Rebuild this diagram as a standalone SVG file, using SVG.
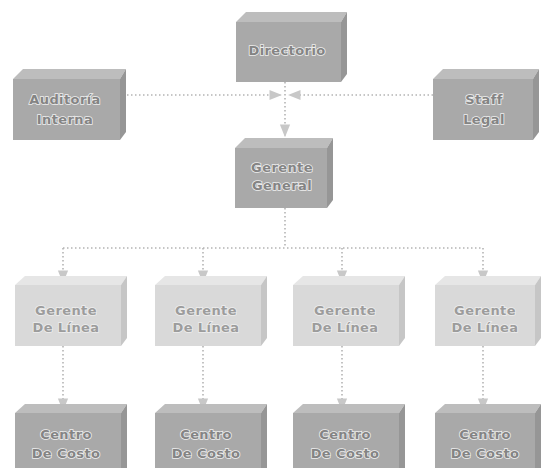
<svg xmlns="http://www.w3.org/2000/svg" width="541" height="468" viewBox="0 0 541 468">
<style>
.front{fill:#a9a9a9}
.top{fill:#bdbdbd}
.side{fill:#969696}
.l .front{fill:#d9d9d9}
.l .top{fill:#e6e6e6}
.l .side{fill:#c6c6c6}
text{font-family:"DejaVu Sans","Liberation Sans",sans-serif;font-weight:bold;font-size:13px;fill:#848484;stroke:#eeeeee;stroke-width:1.6px;paint-order:stroke;text-anchor:middle;letter-spacing:0.4px}
.l text{fill:#9c9c9c}
.c{fill:none;stroke:#b4b4b4;stroke-width:1.6;stroke-dasharray:1.5 2.5}
</style>
<defs>
<marker id="ah" viewBox="0 0 10 10" refX="9" refY="5" markerWidth="8" markerHeight="8" orient="auto">
<path d="M0,1 L10,5 L0,9 z" fill="#c8c8c8"/>
</marker>
</defs>
<rect width="541" height="468" fill="#ffffff"/>
<g id="connectors">
<path class="c" d="M285,82 V136" marker-end="url(#ah)"/>
<path class="c" d="M127,95 H281" marker-end="url(#ah)"/>
<path class="c" d="M433,95 H289" marker-end="url(#ah)"/>
<path class="c" d="M285,208 V248"/>
<path class="c" d="M63,248 H483"/>
<path class="c" d="M63,248 V282" marker-end="url(#ah)"/>
<path class="c" d="M203,248 V282" marker-end="url(#ah)"/>
<path class="c" d="M342,248 V282" marker-end="url(#ah)"/>
<path class="c" d="M483,248 V282" marker-end="url(#ah)"/>
<path class="c" d="M63,346 V410" marker-end="url(#ah)"/>
<path class="c" d="M203,346 V410" marker-end="url(#ah)"/>
<path class="c" d="M342,346 V410" marker-end="url(#ah)"/>
<path class="c" d="M483,346 V410" marker-end="url(#ah)"/>
</g>
<g id="directorio">
<rect class="front" x="236" y="22" width="105" height="60"/>
<polygon class="top" points="236,22 246,12 347,12 341,22"/>
<polygon class="side" points="341,22 347,12 347,74 341,82"/>
<text x="287" y="55">Directorio</text>
</g>
<g id="auditoria">
<rect class="front" x="13" y="79" width="107" height="61"/>
<polygon class="top" points="13,79 23,69 126,69 120,79"/>
<polygon class="side" points="120,79 126,69 126,132 120,140"/>
<text x="65" y="104">Auditoría</text>
<text x="65" y="124">Interna</text>
</g>
<g id="staff">
<rect class="front" x="433" y="79" width="100" height="61"/>
<polygon class="top" points="433,79 443,69 539,69 533,79"/>
<polygon class="side" points="533,79 539,69 539,132 533,140"/>
<text x="484" y="104">Staff</text>
<text x="484" y="124">Legal</text>
</g>
<g id="gerente-general">
<rect class="front" x="235" y="148" width="92" height="60"/>
<polygon class="top" points="235,148 245,138 333,138 327,148"/>
<polygon class="side" points="327,148 333,138 333,200 327,208"/>
<text x="282" y="172">Gerente</text>
<text x="282" y="190">General</text>
</g>
<g id="linea1" class="l">
<rect class="front" x="15" y="285" width="106" height="61"/>
<polygon class="top" points="15,285 25,276 127,276 121,285"/>
<polygon class="side" points="121,285 127,276 127,338 121,346"/>
<text x="66" y="315">Gerente</text>
<text x="66" y="332">De Línea</text>
</g>
<g id="linea2" class="l">
<rect class="front" x="155" y="285" width="106" height="61"/>
<polygon class="top" points="155,285 165,276 267,276 261,285"/>
<polygon class="side" points="261,285 267,276 267,338 261,346"/>
<text x="206" y="315">Gerente</text>
<text x="206" y="332">De Línea</text>
</g>
<g id="linea3" class="l">
<rect class="front" x="293" y="285" width="106" height="61"/>
<polygon class="top" points="293,285 303,276 405,276 399,285"/>
<polygon class="side" points="399,285 405,276 405,338 399,346"/>
<text x="345" y="315">Gerente</text>
<text x="345" y="332">De Línea</text>
</g>
<g id="linea4" class="l">
<rect class="front" x="435" y="285" width="100" height="61"/>
<polygon class="top" points="435,285 445,276 541,276 535,285"/>
<polygon class="side" points="535,285 541,276 541,338 535,346"/>
<text x="485" y="315">Gerente</text>
<text x="485" y="332">De Línea</text>
</g>
<g id="costo1">
<rect class="front" x="15" y="413" width="106" height="55"/>
<polygon class="top" points="15,413 25,404 127,404 121,413"/>
<polygon class="side" points="121,413 127,404 127,468 121,468"/>
<text x="66" y="439">Centro</text>
<text x="66" y="458">De Costo</text>
</g>
<g id="costo2">
<rect class="front" x="155" y="413" width="106" height="55"/>
<polygon class="top" points="155,413 165,404 267,404 261,413"/>
<polygon class="side" points="261,413 267,404 267,468 261,468"/>
<text x="206" y="439">Centro</text>
<text x="206" y="458">De Costo</text>
</g>
<g id="costo3">
<rect class="front" x="293" y="413" width="106" height="55"/>
<polygon class="top" points="293,413 303,404 405,404 399,413"/>
<polygon class="side" points="399,413 405,404 405,468 399,468"/>
<text x="345" y="439">Centro</text>
<text x="345" y="458">De Costo</text>
</g>
<g id="costo4">
<rect class="front" x="435" y="413" width="100" height="55"/>
<polygon class="top" points="435,413 445,404 541,404 535,413"/>
<polygon class="side" points="535,413 541,404 541,468 535,468"/>
<text x="485" y="439">Centro</text>
<text x="485" y="458">De Costo</text>
</g>
</svg>
